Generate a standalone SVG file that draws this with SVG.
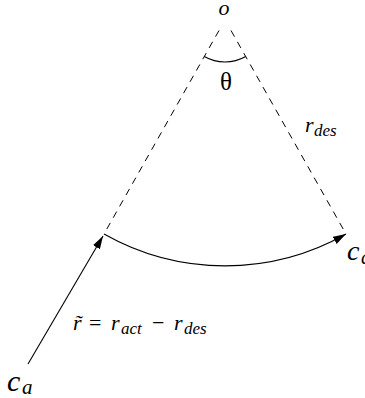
<svg xmlns="http://www.w3.org/2000/svg" width="365" height="398" viewBox="0 0 365 398">
<style>
.ln{fill:none;stroke:#000;stroke-width:1.1}
.dash{fill:none;stroke:#000;stroke-width:1;stroke-dasharray:7,6}
.m{font-family:'Liberation Serif','DejaVu Serif',serif;font-style:italic;fill:#000}
.up{font-family:'Liberation Serif','DejaVu Serif',serif;font-style:normal;fill:#000}
.sub{font-size:17px}
</style>
<defs>
<marker id="ah" markerUnits="userSpaceOnUse" markerWidth="14" markerHeight="10" refX="13" refY="4" orient="auto">
<path d="M0,0 L13,4 L0,8 z" fill="#000"/>
</marker>
</defs>
<g id="connectors">
<path class="dash" d="M219,30.5 L104,234"/>
<path class="dash" d="M231,30.5 L346,234"/>
<path class="ln" d="M204.3,56.6 A42,42 0 0,0 245.7,56.6"/>
<path class="ln" d="M104,234 A245.8,245.8 0 0,0 346,234" marker-end="url(#ah)"/>
<path class="ln" d="M28,364 L103,236" marker-end="url(#ah)"/>
</g>
<g id="node-o"><text class="m" x="224" y="15" font-size="22" text-anchor="middle">o</text></g>
<g id="node-theta"><text class="up" x="226" y="90" font-size="25" text-anchor="middle">θ</text></g>
<g id="label-rdes"><text class="m" x="305" y="132" font-size="22">r<tspan class="sub" x="314" dy="4">des</tspan></text></g>
<g id="label-formula"><text class="m" x="73" y="330" font-size="22">r̃<tspan class="up" x="89">=</tspan><tspan x="111">r</tspan><tspan class="sub" x="121" dy="4">act</tspan><tspan class="up" x="152" dy="-4">−</tspan><tspan x="174">r</tspan><tspan class="sub" x="184" dy="4">des</tspan></text></g>
<g id="node-ca"><text class="m" x="7" y="391" font-size="30">c<tspan font-size="21" x="22" dy="3">a</tspan></text></g>
<g id="node-cd"><text class="m" x="347" y="260" font-size="28">c<tspan font-size="20" x="361" dy="4">d</tspan></text></g>
</svg>
